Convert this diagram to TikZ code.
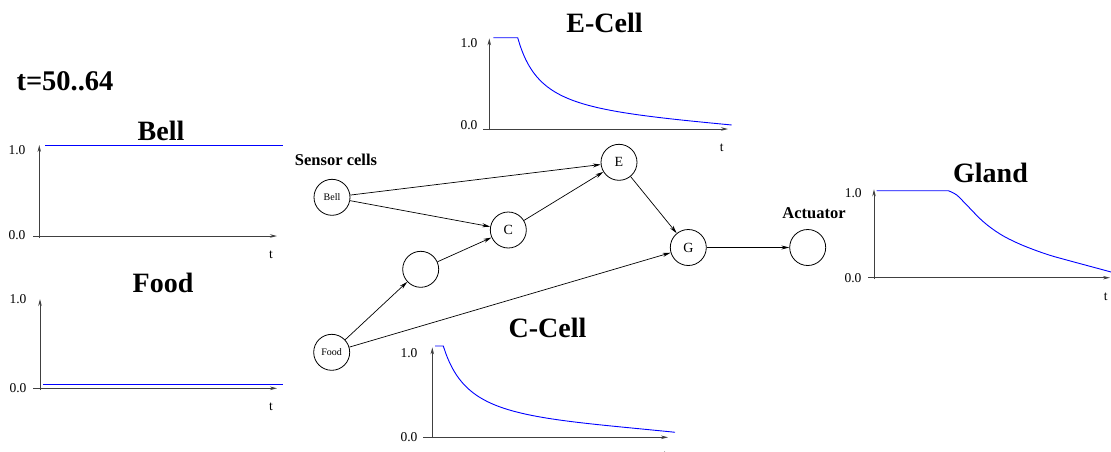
\documentclass[tikz,border=0pt]{standalone}
\usepackage{fontspec}
\setmainfont{Liberation Serif}
\usetikzlibrary{arrows.meta}
\tikzset{
  cell/.style={circle, draw, minimum size=36pt, inner sep=0pt, line width=0.8pt},
  conn/.style={-{Stealth[length=8pt,width=4pt]}, line width=0.7pt},
  axis/.style={-{Stealth[length=7pt,width=3.5pt]}, line width=0.8pt, black!75},
  curve/.style={blue, line width=0.9pt},
  bigtitle/.style={font=\fontsize{28}{28}\bfseries\selectfont},
  midtitle/.style={font=\fontsize{16.5}{17}\bfseries\selectfont},
  ticklab/.style={font=\fontsize{13.5}{14}\selectfont},
  smalllab/.style={font=\fontsize{10}{10}\selectfont},
  letterlab/.style={font=\fontsize{14}{14}\selectfont}
}
\begin{document}
\begin{tikzpicture}[x=1pt,y=-1pt]
\useasboundingbox (0,0) rectangle (1111,451);

% titles
\node[bigtitle, font=\fontsize{28.5}{28}\bfseries\selectfont] (ttime) at (65,81) {t=50..64};
\node[bigtitle] (tbell) at (161,131) {Bell};
\node[bigtitle] (tfood) at (163,283) {Food};
\node[bigtitle] (tecell) at (604.5,23) {E-Cell};
\node[bigtitle] (tccell) at (547.5,328) {C-Cell};
\node[bigtitle] (tgland) at (990.5,173) {Gland};
\node[midtitle] (tsensor) at (336,160) {Sensor cells};
\node[midtitle] (tact) at (814,213) {Actuator};

% ---- Bell plot
\draw[axis] (39.3,238) -- (39.3,145);
\draw[axis] (33,236) -- (277,236);
\draw[curve] (45,145) -- (283,145);
\node[ticklab] (b1) at (17,150) {1.0};
\node[ticklab] (b0) at (17,235) {0.0};
\node[ticklab] (bt) at (271,255) {t};

% ---- Food plot
\draw[axis] (40,390) -- (40,299);
\draw[axis] (33,388.3) -- (277,388.3);
\draw[curve] (43,384.3) -- (283,384.3);
\node[ticklab] (f1) at (18,299) {1.0};
\node[ticklab] (f0) at (18,387.7) {0.0};
\node[ticklab] (ft) at (271,406.7) {t};

% ---- E-Cell plot
\draw[axis] (489.3,130) -- (489.3,38.3);
\draw[axis] (483,129) -- (728,129);
\draw[curve] (493.3,37.7) -- (517.7,37.7)
  -- plot[domain=517.7:731.7, samples=80, smooth]
  (\x, {129 - 91.3*(1/(1+0.039*(\x-517.7)) - 0.063*((\x-517.7)/214)^2)});
\node[ticklab] (e1) at (469,43) {1.0};
\node[ticklab] (e0) at (469,125) {0.0};
\node[ticklab] (et) at (721.7,147.3) {t};

% ---- C-Cell plot
\draw[axis] (432.3,438) -- (432.3,347.3);
\draw[axis] (423,437.3) -- (668,437.3);
\draw[curve] (435,346) -- (443.3,346)
  -- plot[domain=443.3:675, samples=80, smooth]
  (\x, {437.3 - 91.3*(1/(1+0.03525*(\x-443.3)) - 0.054*((\x-443.3)/231.7)^3)});
\node[ticklab] (c1) at (409,353) {1.0};
\node[ticklab] (c0) at (409,436.7) {0.0};
\node[ticklab] (ct) at (665,456) {t};

% ---- Gland plot
\draw[axis] (874,279) -- (874,189.3);
\draw[axis] (868.3,277.7) -- (1110,277.7);
\draw[curve] (876.7,190.7) -- (948.3,190.7)
  plot[smooth, tension=0.6] coordinates {(948.3,190.7) (956.7,195) (966.7,205) (983.3,221.7) (1000,234) (1016.7,242.7) (1033.3,249.5) (1050,255.3) (1066.7,260) (1083.3,264.5) (1100,269) (1111,272)};
\node[ticklab] (g1) at (853.3,192.7) {1.0};
\node[ticklab] (g0) at (853,277.7) {0.0};
\node[ticklab] (gt) at (1105.7,296.7) {t};

% ---- network
\node[cell, smalllab] (bell) at (332,197.3) {Bell};
\node[cell, smalllab] (food) at (331.7,352.3) {Food};
\node[cell] (mid) at (420.7,269.3) {};
\node[cell, letterlab] (C) at (508.3,230) {C};
\node[cell, letterlab] (E) at (619,162.3) {E};
\node[cell, letterlab] (G) at (688.3,247.5) {G};
\node[cell] (act) at (807.7,247.5) {};

\draw[conn] (bell) -- (E);
\draw[conn] (bell) -- (C);
\draw[conn] (food) -- (mid);
\draw[conn] (mid) -- (C);
\draw[conn] (food) -- (G);
\draw[conn] (C) -- (E);
\draw[conn] (E) -- (G);
\draw[conn] (G) -- (act);
\end{tikzpicture}
\end{document}
